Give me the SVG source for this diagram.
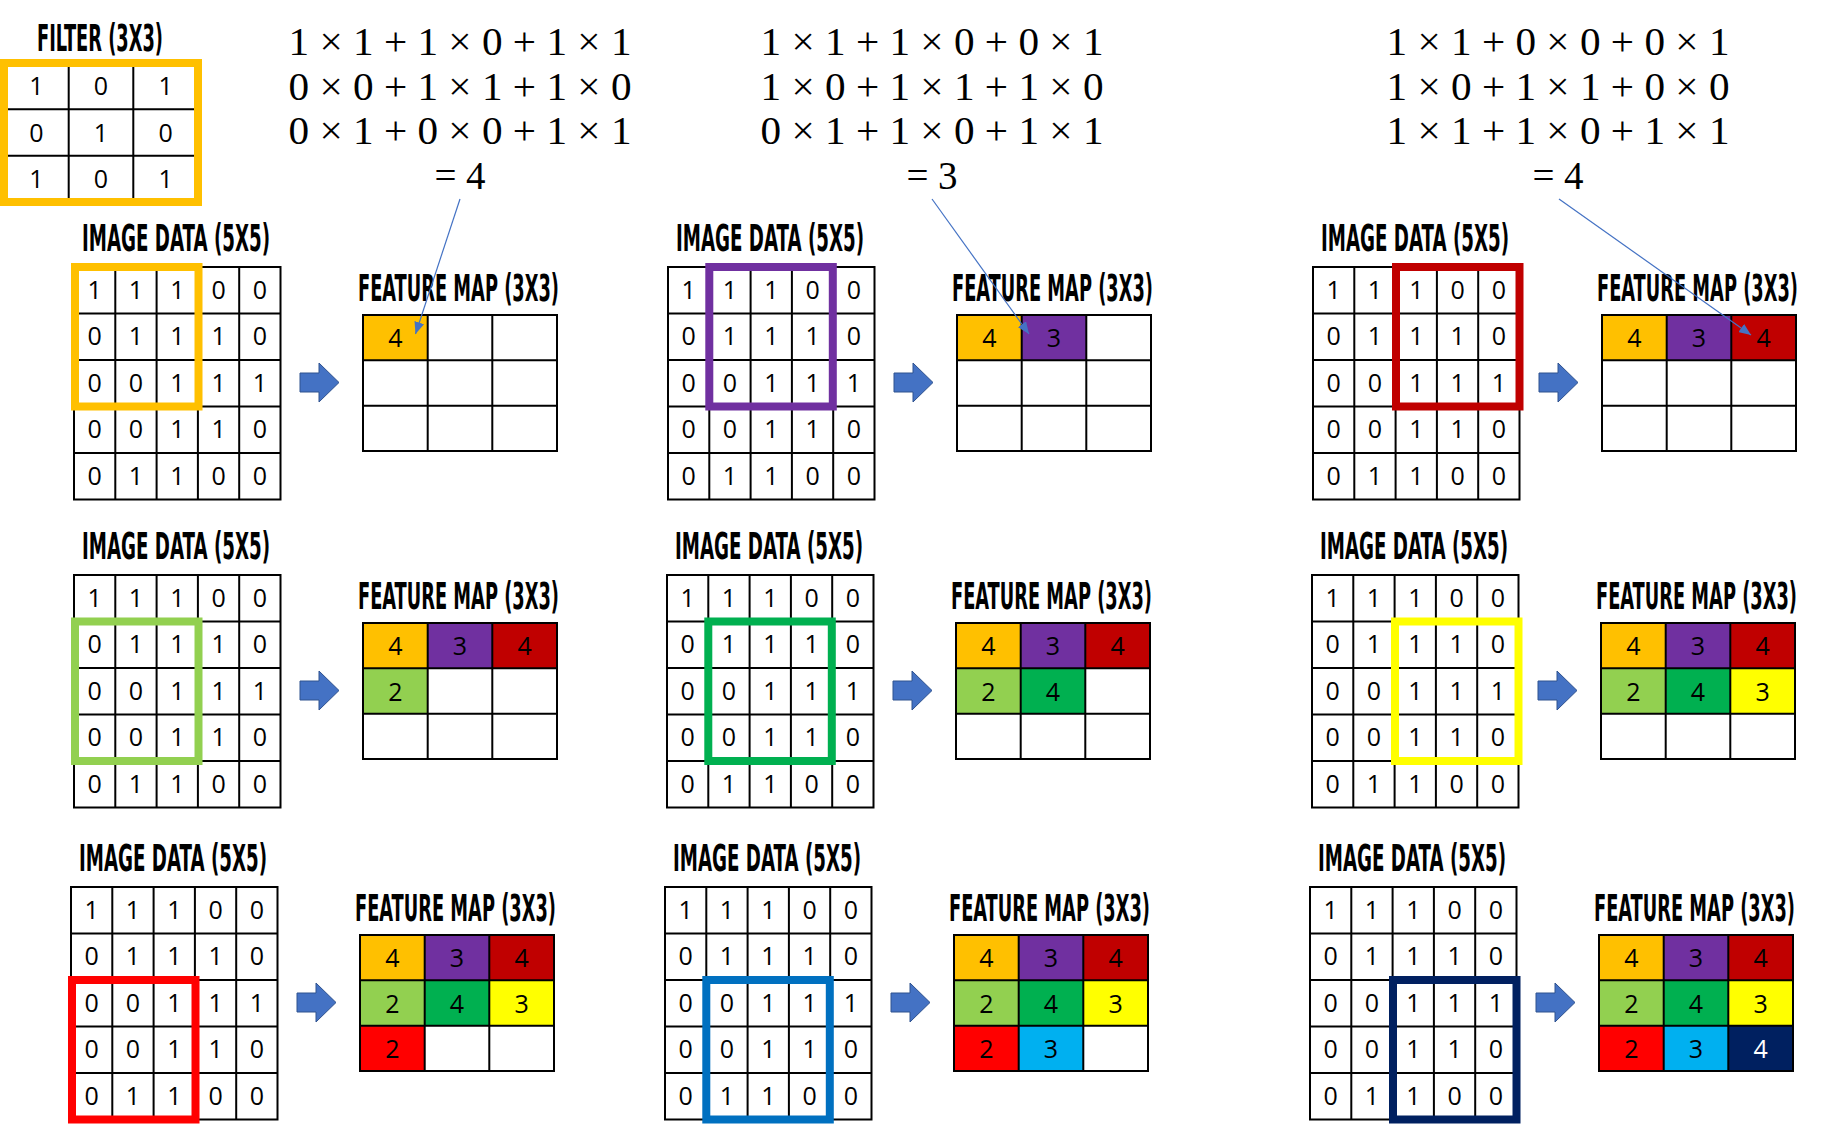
<svg xmlns="http://www.w3.org/2000/svg" width="1821" height="1125" viewBox="0 0 1821 1125">
<style>
.g{fill:none;stroke:#000;stroke-width:2}
.d{font-family:"Open Sans","Noto Sans",sans-serif;font-size:25px;text-anchor:middle;fill:#000}
.w{fill:#fff}
.t{font-family:"DejaVu Sans Condensed","DejaVu Sans",sans-serif;font-weight:bold;font-size:20px;text-anchor:middle;fill:#000}
.eq{font-family:"Liberation Serif","DejaVu Serif",serif;font-size:39px;text-anchor:middle;fill:#000}
.hl{fill:none;stroke-width:8}
.ar{fill:#4472C4;stroke:#2F528F;stroke-width:1}
.cn{stroke:#4472C4;stroke-width:1.2;fill:none;marker-end:url(#ah)}
</style>
<defs>
<marker id="ah" markerUnits="userSpaceOnUse" viewBox="0 0 12 10" markerWidth="12" markerHeight="10" refX="12" refY="5" orient="auto"><path d="M0,0 L12,5 L0,10 z" fill="#4472C4"/></marker>
</defs>
<rect width="1821" height="1125" fill="#fff"/>

<g id="filter">
<text class="t" transform="translate(100,51) scale(1,1.85)" x="0" y="0" textLength="126" lengthAdjust="spacingAndGlyphs">FILTER (3X3)</text>
<path class="g" d="M4 63H198V202H4ZM68.7 63V202M133.3 63V202M4 109.3H198M4 155.7H198"/>
<text class="d" x="36.3" y="95">1</text><text class="d" x="101" y="95">0</text><text class="d" x="165.7" y="95">1</text>
<text class="d" x="36.3" y="141.5">0</text><text class="d" x="101" y="141.5">1</text><text class="d" x="165.7" y="141.5">0</text>
<text class="d" x="36.3" y="188">1</text><text class="d" x="101" y="188">0</text><text class="d" x="165.7" y="188">1</text>
<rect class="hl" x="4" y="63" width="194" height="139" stroke="#FFC000"/>
</g>

<g id="equations">
<text class="eq" x="460" y="55" textLength="343" lengthAdjust="spacingAndGlyphs">1 × 1 + 1 × 0 + 1 × 1</text>
<text class="eq" x="460" y="100" textLength="343" lengthAdjust="spacingAndGlyphs">0 × 0 + 1 × 1 + 1 × 0</text>
<text class="eq" x="460" y="144" textLength="343" lengthAdjust="spacingAndGlyphs">0 × 1 + 0 × 0 + 1 × 1</text>
<text class="eq" x="460" y="189">= 4</text>
<text class="eq" x="932" y="55" textLength="343" lengthAdjust="spacingAndGlyphs">1 × 1 + 1 × 0 + 0 × 1</text>
<text class="eq" x="932" y="100" textLength="343" lengthAdjust="spacingAndGlyphs">1 × 0 + 1 × 1 + 1 × 0</text>
<text class="eq" x="932" y="144" textLength="343" lengthAdjust="spacingAndGlyphs">0 × 1 + 1 × 0 + 1 × 1</text>
<text class="eq" x="932" y="189">= 3</text>
<text class="eq" x="1558" y="55" textLength="343" lengthAdjust="spacingAndGlyphs">1 × 1 + 0 × 0 + 0 × 1</text>
<text class="eq" x="1558" y="100" textLength="343" lengthAdjust="spacingAndGlyphs">1 × 0 + 1 × 1 + 0 × 0</text>
<text class="eq" x="1558" y="144" textLength="343" lengthAdjust="spacingAndGlyphs">1 × 1 + 1 × 0 + 1 × 1</text>
<text class="eq" x="1558" y="189">= 4</text>
</g>

<!-- STEP 1 -->
<g id="step1" transform="translate(74,267)">
<text class="t" transform="translate(102,-16) scale(1,1.85)" x="0" y="0" textLength="188" lengthAdjust="spacingAndGlyphs">IMAGE DATA (5X5)</text>
<path class="g" d="M0 0H206.5V232.5H0ZM41.3 0V232.5M82.6 0V232.5M123.9 0V232.5M165.2 0V232.5M0 46.5H206.5M0 93H206.5M0 139.5H206.5M0 186H206.5"/>
<text class="d" x="20.7" y="31.7">1</text><text class="d" x="62" y="31.7">1</text><text class="d" x="103.3" y="31.7">1</text><text class="d" x="144.6" y="31.7">0</text><text class="d" x="185.9" y="31.7">0</text>
<text class="d" x="20.7" y="78.2">0</text><text class="d" x="62" y="78.2">1</text><text class="d" x="103.3" y="78.2">1</text><text class="d" x="144.6" y="78.2">1</text><text class="d" x="185.9" y="78.2">0</text>
<text class="d" x="20.7" y="124.7">0</text><text class="d" x="62" y="124.7">0</text><text class="d" x="103.3" y="124.7">1</text><text class="d" x="144.6" y="124.7">1</text><text class="d" x="185.9" y="124.7">1</text>
<text class="d" x="20.7" y="171.2">0</text><text class="d" x="62" y="171.2">0</text><text class="d" x="103.3" y="171.2">1</text><text class="d" x="144.6" y="171.2">1</text><text class="d" x="185.9" y="171.2">0</text>
<text class="d" x="20.7" y="217.7">0</text><text class="d" x="62" y="217.7">1</text><text class="d" x="103.3" y="217.7">1</text><text class="d" x="144.6" y="217.7">0</text><text class="d" x="185.9" y="217.7">0</text>
<rect class="hl" x="1" y="0" width="123.5" height="139.5" stroke="#FFC000"/>
<path class="ar" transform="translate(226,96)" d="M0 10H19V0L39 19.5L19 39V29H0Z"/>
<g transform="translate(289,48)">
<text class="t" transform="translate(95.5,-14) scale(1,1.85)" x="0" y="0" textLength="201" lengthAdjust="spacingAndGlyphs">FEATURE MAP (3X3)</text>
<rect x="0" y="0" width="64.7" height="45.3" fill="#FFC000"/>
<path class="g" d="M0 0H194V136H0ZM64.7 0V136M129.3 0V136M0 45.3H194M0 90.7H194"/>
<text class="d" x="32.3" y="32.2">4</text>
</g>
</g>

<!-- STEP 2 -->
<g id="step2" transform="translate(668,267)">
<text class="t" transform="translate(102,-16) scale(1,1.85)" x="0" y="0" textLength="188" lengthAdjust="spacingAndGlyphs">IMAGE DATA (5X5)</text>
<path class="g" d="M0 0H206.5V232.5H0ZM41.3 0V232.5M82.6 0V232.5M123.9 0V232.5M165.2 0V232.5M0 46.5H206.5M0 93H206.5M0 139.5H206.5M0 186H206.5"/>
<text class="d" x="20.7" y="31.7">1</text><text class="d" x="62" y="31.7">1</text><text class="d" x="103.3" y="31.7">1</text><text class="d" x="144.6" y="31.7">0</text><text class="d" x="185.9" y="31.7">0</text>
<text class="d" x="20.7" y="78.2">0</text><text class="d" x="62" y="78.2">1</text><text class="d" x="103.3" y="78.2">1</text><text class="d" x="144.6" y="78.2">1</text><text class="d" x="185.9" y="78.2">0</text>
<text class="d" x="20.7" y="124.7">0</text><text class="d" x="62" y="124.7">0</text><text class="d" x="103.3" y="124.7">1</text><text class="d" x="144.6" y="124.7">1</text><text class="d" x="185.9" y="124.7">1</text>
<text class="d" x="20.7" y="171.2">0</text><text class="d" x="62" y="171.2">0</text><text class="d" x="103.3" y="171.2">1</text><text class="d" x="144.6" y="171.2">1</text><text class="d" x="185.9" y="171.2">0</text>
<text class="d" x="20.7" y="217.7">0</text><text class="d" x="62" y="217.7">1</text><text class="d" x="103.3" y="217.7">1</text><text class="d" x="144.6" y="217.7">0</text><text class="d" x="185.9" y="217.7">0</text>
<rect class="hl" x="41.3" y="0" width="123.5" height="139.5" stroke="#7030A0"/>
<path class="ar" transform="translate(226,96)" d="M0 10H19V0L39 19.5L19 39V29H0Z"/>
<g transform="translate(289,48)">
<text class="t" transform="translate(95.5,-14) scale(1,1.85)" x="0" y="0" textLength="201" lengthAdjust="spacingAndGlyphs">FEATURE MAP (3X3)</text>
<rect x="0" y="0" width="64.7" height="45.3" fill="#FFC000"/>
<rect x="64.7" y="0" width="64.7" height="45.3" fill="#7030A0"/>
<path class="g" d="M0 0H194V136H0ZM64.7 0V136M129.3 0V136M0 45.3H194M0 90.7H194"/>
<text class="d" x="32.3" y="32.2">4</text><text class="d" x="97" y="32.2">3</text>
</g>
</g>

<!-- STEP 3 -->
<g id="step3" transform="translate(1313,267)">
<text class="t" transform="translate(102,-16) scale(1,1.85)" x="0" y="0" textLength="188" lengthAdjust="spacingAndGlyphs">IMAGE DATA (5X5)</text>
<path class="g" d="M0 0H206.5V232.5H0ZM41.3 0V232.5M82.6 0V232.5M123.9 0V232.5M165.2 0V232.5M0 46.5H206.5M0 93H206.5M0 139.5H206.5M0 186H206.5"/>
<text class="d" x="20.7" y="31.7">1</text><text class="d" x="62" y="31.7">1</text><text class="d" x="103.3" y="31.7">1</text><text class="d" x="144.6" y="31.7">0</text><text class="d" x="185.9" y="31.7">0</text>
<text class="d" x="20.7" y="78.2">0</text><text class="d" x="62" y="78.2">1</text><text class="d" x="103.3" y="78.2">1</text><text class="d" x="144.6" y="78.2">1</text><text class="d" x="185.9" y="78.2">0</text>
<text class="d" x="20.7" y="124.7">0</text><text class="d" x="62" y="124.7">0</text><text class="d" x="103.3" y="124.7">1</text><text class="d" x="144.6" y="124.7">1</text><text class="d" x="185.9" y="124.7">1</text>
<text class="d" x="20.7" y="171.2">0</text><text class="d" x="62" y="171.2">0</text><text class="d" x="103.3" y="171.2">1</text><text class="d" x="144.6" y="171.2">1</text><text class="d" x="185.9" y="171.2">0</text>
<text class="d" x="20.7" y="217.7">0</text><text class="d" x="62" y="217.7">1</text><text class="d" x="103.3" y="217.7">1</text><text class="d" x="144.6" y="217.7">0</text><text class="d" x="185.9" y="217.7">0</text>
<rect class="hl" x="83" y="0" width="123.5" height="139.5" stroke="#C00000"/>
<path class="ar" transform="translate(226,96)" d="M0 10H19V0L39 19.5L19 39V29H0Z"/>
<g transform="translate(289,48)">
<text class="t" transform="translate(95.5,-14) scale(1,1.85)" x="0" y="0" textLength="201" lengthAdjust="spacingAndGlyphs">FEATURE MAP (3X3)</text>
<rect x="0" y="0" width="64.7" height="45.3" fill="#FFC000"/>
<rect x="64.7" y="0" width="64.7" height="45.3" fill="#7030A0"/>
<rect x="129.3" y="0" width="64.7" height="45.3" fill="#C00000"/>
<path class="g" d="M0 0H194V136H0ZM64.7 0V136M129.3 0V136M0 45.3H194M0 90.7H194"/>
<text class="d" x="32.3" y="32.2">4</text><text class="d" x="97" y="32.2">3</text><text class="d" x="161.7" y="32.2">4</text>
</g>
</g>

<!-- STEP 4 -->
<g id="step4" transform="translate(74,575)">
<text class="t" transform="translate(102,-16) scale(1,1.85)" x="0" y="0" textLength="188" lengthAdjust="spacingAndGlyphs">IMAGE DATA (5X5)</text>
<path class="g" d="M0 0H206.5V232.5H0ZM41.3 0V232.5M82.6 0V232.5M123.9 0V232.5M165.2 0V232.5M0 46.5H206.5M0 93H206.5M0 139.5H206.5M0 186H206.5"/>
<text class="d" x="20.7" y="31.7">1</text><text class="d" x="62" y="31.7">1</text><text class="d" x="103.3" y="31.7">1</text><text class="d" x="144.6" y="31.7">0</text><text class="d" x="185.9" y="31.7">0</text>
<text class="d" x="20.7" y="78.2">0</text><text class="d" x="62" y="78.2">1</text><text class="d" x="103.3" y="78.2">1</text><text class="d" x="144.6" y="78.2">1</text><text class="d" x="185.9" y="78.2">0</text>
<text class="d" x="20.7" y="124.7">0</text><text class="d" x="62" y="124.7">0</text><text class="d" x="103.3" y="124.7">1</text><text class="d" x="144.6" y="124.7">1</text><text class="d" x="185.9" y="124.7">1</text>
<text class="d" x="20.7" y="171.2">0</text><text class="d" x="62" y="171.2">0</text><text class="d" x="103.3" y="171.2">1</text><text class="d" x="144.6" y="171.2">1</text><text class="d" x="185.9" y="171.2">0</text>
<text class="d" x="20.7" y="217.7">0</text><text class="d" x="62" y="217.7">1</text><text class="d" x="103.3" y="217.7">1</text><text class="d" x="144.6" y="217.7">0</text><text class="d" x="185.9" y="217.7">0</text>
<rect class="hl" x="1" y="46.5" width="123.5" height="139.5" stroke="#92D050"/>
<path class="ar" transform="translate(226,96)" d="M0 10H19V0L39 19.5L19 39V29H0Z"/>
<g transform="translate(289,48)">
<text class="t" transform="translate(95.5,-14) scale(1,1.85)" x="0" y="0" textLength="201" lengthAdjust="spacingAndGlyphs">FEATURE MAP (3X3)</text>
<rect x="0" y="0" width="64.7" height="45.3" fill="#FFC000"/>
<rect x="64.7" y="0" width="64.7" height="45.3" fill="#7030A0"/>
<rect x="129.3" y="0" width="64.7" height="45.3" fill="#C00000"/>
<rect x="0" y="45.3" width="64.7" height="45.3" fill="#92D050"/>
<path class="g" d="M0 0H194V136H0ZM64.7 0V136M129.3 0V136M0 45.3H194M0 90.7H194"/>
<text class="d" x="32.3" y="32.2">4</text><text class="d" x="97" y="32.2">3</text><text class="d" x="161.7" y="32.2">4</text>
<text class="d" x="32.3" y="77.5">2</text>
</g>
</g>

<!-- STEP 5 -->
<g id="step5" transform="translate(667,575)">
<text class="t" transform="translate(102,-16) scale(1,1.85)" x="0" y="0" textLength="188" lengthAdjust="spacingAndGlyphs">IMAGE DATA (5X5)</text>
<path class="g" d="M0 0H206.5V232.5H0ZM41.3 0V232.5M82.6 0V232.5M123.9 0V232.5M165.2 0V232.5M0 46.5H206.5M0 93H206.5M0 139.5H206.5M0 186H206.5"/>
<text class="d" x="20.7" y="31.7">1</text><text class="d" x="62" y="31.7">1</text><text class="d" x="103.3" y="31.7">1</text><text class="d" x="144.6" y="31.7">0</text><text class="d" x="185.9" y="31.7">0</text>
<text class="d" x="20.7" y="78.2">0</text><text class="d" x="62" y="78.2">1</text><text class="d" x="103.3" y="78.2">1</text><text class="d" x="144.6" y="78.2">1</text><text class="d" x="185.9" y="78.2">0</text>
<text class="d" x="20.7" y="124.7">0</text><text class="d" x="62" y="124.7">0</text><text class="d" x="103.3" y="124.7">1</text><text class="d" x="144.6" y="124.7">1</text><text class="d" x="185.9" y="124.7">1</text>
<text class="d" x="20.7" y="171.2">0</text><text class="d" x="62" y="171.2">0</text><text class="d" x="103.3" y="171.2">1</text><text class="d" x="144.6" y="171.2">1</text><text class="d" x="185.9" y="171.2">0</text>
<text class="d" x="20.7" y="217.7">0</text><text class="d" x="62" y="217.7">1</text><text class="d" x="103.3" y="217.7">1</text><text class="d" x="144.6" y="217.7">0</text><text class="d" x="185.9" y="217.7">0</text>
<rect class="hl" x="41.3" y="46.5" width="123.5" height="139.5" stroke="#00B050"/>
<path class="ar" transform="translate(226,96)" d="M0 10H19V0L39 19.5L19 39V29H0Z"/>
<g transform="translate(289,48)">
<text class="t" transform="translate(95.5,-14) scale(1,1.85)" x="0" y="0" textLength="201" lengthAdjust="spacingAndGlyphs">FEATURE MAP (3X3)</text>
<rect x="0" y="0" width="64.7" height="45.3" fill="#FFC000"/>
<rect x="64.7" y="0" width="64.7" height="45.3" fill="#7030A0"/>
<rect x="129.3" y="0" width="64.7" height="45.3" fill="#C00000"/>
<rect x="0" y="45.3" width="64.7" height="45.3" fill="#92D050"/>
<rect x="64.7" y="45.3" width="64.7" height="45.3" fill="#00B050"/>
<path class="g" d="M0 0H194V136H0ZM64.7 0V136M129.3 0V136M0 45.3H194M0 90.7H194"/>
<text class="d" x="32.3" y="32.2">4</text><text class="d" x="97" y="32.2">3</text><text class="d" x="161.7" y="32.2">4</text>
<text class="d" x="32.3" y="77.5">2</text><text class="d" x="97" y="77.5">4</text>
</g>
</g>

<!-- STEP 6 -->
<g id="step6" transform="translate(1312,575)">
<text class="t" transform="translate(102,-16) scale(1,1.85)" x="0" y="0" textLength="188" lengthAdjust="spacingAndGlyphs">IMAGE DATA (5X5)</text>
<path class="g" d="M0 0H206.5V232.5H0ZM41.3 0V232.5M82.6 0V232.5M123.9 0V232.5M165.2 0V232.5M0 46.5H206.5M0 93H206.5M0 139.5H206.5M0 186H206.5"/>
<text class="d" x="20.7" y="31.7">1</text><text class="d" x="62" y="31.7">1</text><text class="d" x="103.3" y="31.7">1</text><text class="d" x="144.6" y="31.7">0</text><text class="d" x="185.9" y="31.7">0</text>
<text class="d" x="20.7" y="78.2">0</text><text class="d" x="62" y="78.2">1</text><text class="d" x="103.3" y="78.2">1</text><text class="d" x="144.6" y="78.2">1</text><text class="d" x="185.9" y="78.2">0</text>
<text class="d" x="20.7" y="124.7">0</text><text class="d" x="62" y="124.7">0</text><text class="d" x="103.3" y="124.7">1</text><text class="d" x="144.6" y="124.7">1</text><text class="d" x="185.9" y="124.7">1</text>
<text class="d" x="20.7" y="171.2">0</text><text class="d" x="62" y="171.2">0</text><text class="d" x="103.3" y="171.2">1</text><text class="d" x="144.6" y="171.2">1</text><text class="d" x="185.9" y="171.2">0</text>
<text class="d" x="20.7" y="217.7">0</text><text class="d" x="62" y="217.7">1</text><text class="d" x="103.3" y="217.7">1</text><text class="d" x="144.6" y="217.7">0</text><text class="d" x="185.9" y="217.7">0</text>
<rect class="hl" x="83" y="46.5" width="123.5" height="139.5" stroke="#FFFF00"/>
<path class="ar" transform="translate(226,96)" d="M0 10H19V0L39 19.5L19 39V29H0Z"/>
<g transform="translate(289,48)">
<text class="t" transform="translate(95.5,-14) scale(1,1.85)" x="0" y="0" textLength="201" lengthAdjust="spacingAndGlyphs">FEATURE MAP (3X3)</text>
<rect x="0" y="0" width="64.7" height="45.3" fill="#FFC000"/>
<rect x="64.7" y="0" width="64.7" height="45.3" fill="#7030A0"/>
<rect x="129.3" y="0" width="64.7" height="45.3" fill="#C00000"/>
<rect x="0" y="45.3" width="64.7" height="45.3" fill="#92D050"/>
<rect x="64.7" y="45.3" width="64.7" height="45.3" fill="#00B050"/>
<rect x="129.3" y="45.3" width="64.7" height="45.3" fill="#FFFF00"/>
<path class="g" d="M0 0H194V136H0ZM64.7 0V136M129.3 0V136M0 45.3H194M0 90.7H194"/>
<text class="d" x="32.3" y="32.2">4</text><text class="d" x="97" y="32.2">3</text><text class="d" x="161.7" y="32.2">4</text>
<text class="d" x="32.3" y="77.5">2</text><text class="d" x="97" y="77.5">4</text><text class="d" x="161.7" y="77.5">3</text>
</g>
</g>

<!-- STEP 7 -->
<g id="step7" transform="translate(71,887)">
<text class="t" transform="translate(102,-16) scale(1,1.85)" x="0" y="0" textLength="188" lengthAdjust="spacingAndGlyphs">IMAGE DATA (5X5)</text>
<path class="g" d="M0 0H206.5V232.5H0ZM41.3 0V232.5M82.6 0V232.5M123.9 0V232.5M165.2 0V232.5M0 46.5H206.5M0 93H206.5M0 139.5H206.5M0 186H206.5"/>
<text class="d" x="20.7" y="31.7">1</text><text class="d" x="62" y="31.7">1</text><text class="d" x="103.3" y="31.7">1</text><text class="d" x="144.6" y="31.7">0</text><text class="d" x="185.9" y="31.7">0</text>
<text class="d" x="20.7" y="78.2">0</text><text class="d" x="62" y="78.2">1</text><text class="d" x="103.3" y="78.2">1</text><text class="d" x="144.6" y="78.2">1</text><text class="d" x="185.9" y="78.2">0</text>
<text class="d" x="20.7" y="124.7">0</text><text class="d" x="62" y="124.7">0</text><text class="d" x="103.3" y="124.7">1</text><text class="d" x="144.6" y="124.7">1</text><text class="d" x="185.9" y="124.7">1</text>
<text class="d" x="20.7" y="171.2">0</text><text class="d" x="62" y="171.2">0</text><text class="d" x="103.3" y="171.2">1</text><text class="d" x="144.6" y="171.2">1</text><text class="d" x="185.9" y="171.2">0</text>
<text class="d" x="20.7" y="217.7">0</text><text class="d" x="62" y="217.7">1</text><text class="d" x="103.3" y="217.7">1</text><text class="d" x="144.6" y="217.7">0</text><text class="d" x="185.9" y="217.7">0</text>
<rect class="hl" x="1" y="93" width="123.5" height="139.5" stroke="#FF0000"/>
<path class="ar" transform="translate(226,96)" d="M0 10H19V0L39 19.5L19 39V29H0Z"/>
<g transform="translate(289,48)">
<text class="t" transform="translate(95.5,-14) scale(1,1.85)" x="0" y="0" textLength="201" lengthAdjust="spacingAndGlyphs">FEATURE MAP (3X3)</text>
<rect x="0" y="0" width="64.7" height="45.3" fill="#FFC000"/>
<rect x="64.7" y="0" width="64.7" height="45.3" fill="#7030A0"/>
<rect x="129.3" y="0" width="64.7" height="45.3" fill="#C00000"/>
<rect x="0" y="45.3" width="64.7" height="45.3" fill="#92D050"/>
<rect x="64.7" y="45.3" width="64.7" height="45.3" fill="#00B050"/>
<rect x="129.3" y="45.3" width="64.7" height="45.3" fill="#FFFF00"/>
<rect x="0" y="90.7" width="64.7" height="45.3" fill="#FF0000"/>
<path class="g" d="M0 0H194V136H0ZM64.7 0V136M129.3 0V136M0 45.3H194M0 90.7H194"/>
<text class="d" x="32.3" y="32.2">4</text><text class="d" x="97" y="32.2">3</text><text class="d" x="161.7" y="32.2">4</text>
<text class="d" x="32.3" y="77.5">2</text><text class="d" x="97" y="77.5">4</text><text class="d" x="161.7" y="77.5">3</text>
<text class="d" x="32.3" y="122.8">2</text>
</g>
</g>

<!-- STEP 8 -->
<g id="step8" transform="translate(665,887)">
<text class="t" transform="translate(102,-16) scale(1,1.85)" x="0" y="0" textLength="188" lengthAdjust="spacingAndGlyphs">IMAGE DATA (5X5)</text>
<path class="g" d="M0 0H206.5V232.5H0ZM41.3 0V232.5M82.6 0V232.5M123.9 0V232.5M165.2 0V232.5M0 46.5H206.5M0 93H206.5M0 139.5H206.5M0 186H206.5"/>
<text class="d" x="20.7" y="31.7">1</text><text class="d" x="62" y="31.7">1</text><text class="d" x="103.3" y="31.7">1</text><text class="d" x="144.6" y="31.7">0</text><text class="d" x="185.9" y="31.7">0</text>
<text class="d" x="20.7" y="78.2">0</text><text class="d" x="62" y="78.2">1</text><text class="d" x="103.3" y="78.2">1</text><text class="d" x="144.6" y="78.2">1</text><text class="d" x="185.9" y="78.2">0</text>
<text class="d" x="20.7" y="124.7">0</text><text class="d" x="62" y="124.7">0</text><text class="d" x="103.3" y="124.7">1</text><text class="d" x="144.6" y="124.7">1</text><text class="d" x="185.9" y="124.7">1</text>
<text class="d" x="20.7" y="171.2">0</text><text class="d" x="62" y="171.2">0</text><text class="d" x="103.3" y="171.2">1</text><text class="d" x="144.6" y="171.2">1</text><text class="d" x="185.9" y="171.2">0</text>
<text class="d" x="20.7" y="217.7">0</text><text class="d" x="62" y="217.7">1</text><text class="d" x="103.3" y="217.7">1</text><text class="d" x="144.6" y="217.7">0</text><text class="d" x="185.9" y="217.7">0</text>
<rect class="hl" x="41.3" y="93" width="123.5" height="139.5" stroke="#0070C0"/>
<path class="ar" transform="translate(226,96)" d="M0 10H19V0L39 19.5L19 39V29H0Z"/>
<g transform="translate(289,48)">
<text class="t" transform="translate(95.5,-14) scale(1,1.85)" x="0" y="0" textLength="201" lengthAdjust="spacingAndGlyphs">FEATURE MAP (3X3)</text>
<rect x="0" y="0" width="64.7" height="45.3" fill="#FFC000"/>
<rect x="64.7" y="0" width="64.7" height="45.3" fill="#7030A0"/>
<rect x="129.3" y="0" width="64.7" height="45.3" fill="#C00000"/>
<rect x="0" y="45.3" width="64.7" height="45.3" fill="#92D050"/>
<rect x="64.7" y="45.3" width="64.7" height="45.3" fill="#00B050"/>
<rect x="129.3" y="45.3" width="64.7" height="45.3" fill="#FFFF00"/>
<rect x="0" y="90.7" width="64.7" height="45.3" fill="#FF0000"/>
<rect x="64.7" y="90.7" width="64.7" height="45.3" fill="#00B0F0"/>
<path class="g" d="M0 0H194V136H0ZM64.7 0V136M129.3 0V136M0 45.3H194M0 90.7H194"/>
<text class="d" x="32.3" y="32.2">4</text><text class="d" x="97" y="32.2">3</text><text class="d" x="161.7" y="32.2">4</text>
<text class="d" x="32.3" y="77.5">2</text><text class="d" x="97" y="77.5">4</text><text class="d" x="161.7" y="77.5">3</text>
<text class="d" x="32.3" y="122.8">2</text><text class="d" x="97" y="122.8">3</text>
</g>
</g>

<!-- STEP 9 -->
<g id="step9" transform="translate(1310,887)">
<text class="t" transform="translate(102,-16) scale(1,1.85)" x="0" y="0" textLength="188" lengthAdjust="spacingAndGlyphs">IMAGE DATA (5X5)</text>
<path class="g" d="M0 0H206.5V232.5H0ZM41.3 0V232.5M82.6 0V232.5M123.9 0V232.5M165.2 0V232.5M0 46.5H206.5M0 93H206.5M0 139.5H206.5M0 186H206.5"/>
<text class="d" x="20.7" y="31.7">1</text><text class="d" x="62" y="31.7">1</text><text class="d" x="103.3" y="31.7">1</text><text class="d" x="144.6" y="31.7">0</text><text class="d" x="185.9" y="31.7">0</text>
<text class="d" x="20.7" y="78.2">0</text><text class="d" x="62" y="78.2">1</text><text class="d" x="103.3" y="78.2">1</text><text class="d" x="144.6" y="78.2">1</text><text class="d" x="185.9" y="78.2">0</text>
<text class="d" x="20.7" y="124.7">0</text><text class="d" x="62" y="124.7">0</text><text class="d" x="103.3" y="124.7">1</text><text class="d" x="144.6" y="124.7">1</text><text class="d" x="185.9" y="124.7">1</text>
<text class="d" x="20.7" y="171.2">0</text><text class="d" x="62" y="171.2">0</text><text class="d" x="103.3" y="171.2">1</text><text class="d" x="144.6" y="171.2">1</text><text class="d" x="185.9" y="171.2">0</text>
<text class="d" x="20.7" y="217.7">0</text><text class="d" x="62" y="217.7">1</text><text class="d" x="103.3" y="217.7">1</text><text class="d" x="144.6" y="217.7">0</text><text class="d" x="185.9" y="217.7">0</text>
<rect class="hl" x="83" y="93" width="123.5" height="139.5" stroke="#002060"/>
<path class="ar" transform="translate(226,96)" d="M0 10H19V0L39 19.5L19 39V29H0Z"/>
<g transform="translate(289,48)">
<text class="t" transform="translate(95.5,-14) scale(1,1.85)" x="0" y="0" textLength="201" lengthAdjust="spacingAndGlyphs">FEATURE MAP (3X3)</text>
<rect x="0" y="0" width="64.7" height="45.3" fill="#FFC000"/>
<rect x="64.7" y="0" width="64.7" height="45.3" fill="#7030A0"/>
<rect x="129.3" y="0" width="64.7" height="45.3" fill="#C00000"/>
<rect x="0" y="45.3" width="64.7" height="45.3" fill="#92D050"/>
<rect x="64.7" y="45.3" width="64.7" height="45.3" fill="#00B050"/>
<rect x="129.3" y="45.3" width="64.7" height="45.3" fill="#FFFF00"/>
<rect x="0" y="90.7" width="64.7" height="45.3" fill="#FF0000"/>
<rect x="64.7" y="90.7" width="64.7" height="45.3" fill="#00B0F0"/>
<rect x="129.3" y="90.7" width="64.7" height="45.3" fill="#002060"/>
<path class="g" d="M0 0H194V136H0ZM64.7 0V136M129.3 0V136M0 45.3H194M0 90.7H194"/>
<text class="d" x="32.3" y="32.2">4</text><text class="d" x="97" y="32.2">3</text><text class="d" x="161.7" y="32.2">4</text>
<text class="d" x="32.3" y="77.5">2</text><text class="d" x="97" y="77.5">4</text><text class="d" x="161.7" y="77.5">3</text>
<text class="d" x="32.3" y="122.8">2</text><text class="d" x="97" y="122.8">3</text><text class="d w" x="161.7" y="122.8">4</text>
</g>
</g>

<g id="connectors">
<line class="cn" x1="460" y1="199" x2="415.5" y2="334"/>
<line class="cn" x1="932" y1="199" x2="1029" y2="334"/>
<line class="cn" x1="1559" y1="199" x2="1751" y2="335"/>
</g>
</svg>
